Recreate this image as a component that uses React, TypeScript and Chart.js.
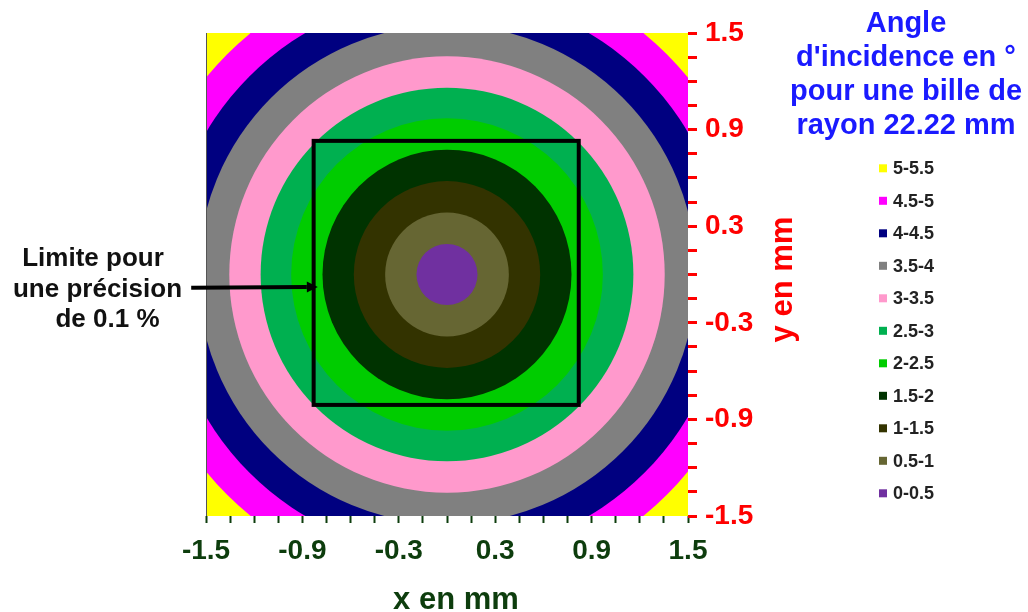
import React, { useEffect, useRef } from 'react';
import { Chart, registerables } from 'chart.js';

Chart.register(...registerables);

// ---- data ----
const bandLabels = ['0-0.5', '0.5-1', '1-1.5', '1.5-2', '2-2.5', '2.5-3', '3-3.5', '3.5-4', '4-4.5', '4.5-5', '5-5.5'];
// outer radius (mm) of each angle band, centred on (0, 0)
const bandOuterRadius = [0.19, 0.385, 0.58, 0.775, 0.97, 1.16, 1.355, 1.55, 1.74, 1.935, 2.13];
const bandColors = ['#7030a0', '#666633', '#333300', '#003300', '#00cc00', '#00b050', '#ff99cc', '#808080', '#000080', '#ff00ff', '#ffff00'];
const centre = [0, 0];

const tickValues = [-1.5, -1.35, -1.2, -1.05, -0.9, -0.75, -0.6, -0.45, -0.3, -0.15, 0, 0.15, 0.3, 0.45, 0.6, 0.75, 0.9, 1.05, 1.2, 1.35, 1.5];
const xTickLabels = ['-1.5', '-0.9', '-0.3', '0.3', '0.9', '1.5'];
const yTickLabels = ['-1.5', '-0.9', '-0.3', '0.3', '0.9', '1.5'];

const limitX = [-0.83, 0.82];
const limitY = [-0.81, 0.83];
const arrowStart = [-1.592, -0.083];
const arrowEnd = [-0.804, -0.077];

const legendTitleLines = ['Angle', "d'incidence en °", 'pour une bille de', 'rayon 22.22 mm'];
const noteLines = ['Limite pour', 'une précision', 'de 0.1 %'];
const xTitle = 'x en mm';
const yTitle = 'y en mm';

const FONT = '"Liberation Sans", Arial, sans-serif';
const X_COLOR = '#0d3d0d';
const Y_COLOR = '#ff0000';

function labelFor(list: string[], value: number): string {
  const hit = list.find((l) => Math.abs(parseFloat(l) - value) < 1e-6);
  return hit ?? '';
}

const contourPlugin = {
  id: 'contour',
  beforeDatasetsDraw(chart: any) {
    const { ctx, chartArea: a, scales } = chart;
    const x = scales.x;
    const y = scales.y;
    ctx.save();
    ctx.beginPath();
    ctx.rect(a.left, a.top, a.right - a.left, a.bottom - a.top);
    ctx.clip();
    const cx = x.getPixelForValue(centre[0]);
    const cy = y.getPixelForValue(centre[1]);
    const n = bandOuterRadius.length;
    // outermost band fills the remaining area
    ctx.fillStyle = bandColors[n - 1];
    ctx.fillRect(a.left, a.top, a.right - a.left, a.bottom - a.top);
    for (let i = n - 2; i >= 0; i--) {
      const r = bandOuterRadius[i];
      const rx = x.getPixelForValue(centre[0] + r) - cx;
      const ry = cy - y.getPixelForValue(centre[1] + r);
      ctx.fillStyle = bandColors[i];
      ctx.beginPath();
      ctx.ellipse(cx, cy, rx, ry, 0, 0, Math.PI * 2);
      ctx.fill();
    }
    ctx.restore();

    // thin left frame line
    ctx.save();
    ctx.strokeStyle = '#555555';
    ctx.lineWidth = 1;
    ctx.beginPath();
    ctx.moveTo(a.left + 0.5, a.top);
    ctx.lineTo(a.left + 0.5, a.bottom);
    ctx.stroke();
    ctx.restore();

    // limit square
    const x0 = x.getPixelForValue(limitX[0]);
    const x1 = x.getPixelForValue(limitX[1]);
    const y0 = y.getPixelForValue(limitY[1]);
    const y1 = y.getPixelForValue(limitY[0]);
    ctx.save();
    ctx.strokeStyle = '#000000';
    ctx.lineWidth = 4;
    ctx.strokeRect(x0, y0, x1 - x0, y1 - y0);
    ctx.restore();
  },
  afterDraw(chart: any) {
    const { ctx, chartArea: a, scales } = chart;
    const x = scales.x;
    const y = scales.y;

    // arrow
    const ax0 = x.getPixelForValue(arrowStart[0]);
    const ay0 = y.getPixelForValue(arrowStart[1]);
    const ax1 = x.getPixelForValue(arrowEnd[0]);
    const ay1 = y.getPixelForValue(arrowEnd[1]);
    const ang = Math.atan2(ay1 - ay0, ax1 - ax0);
    const headLen = 11;
    const headHalf = 5.5;
    ctx.save();
    ctx.strokeStyle = '#000000';
    ctx.fillStyle = '#000000';
    ctx.lineWidth = 4;
    ctx.beginPath();
    ctx.moveTo(ax0, ay0);
    ctx.lineTo(ax1 - headLen * Math.cos(ang), ay1 - headLen * Math.sin(ang));
    ctx.stroke();
    ctx.beginPath();
    ctx.moveTo(ax1, ay1);
    ctx.lineTo(ax1 - headLen * Math.cos(ang) - headHalf * Math.sin(ang), ay1 - headLen * Math.sin(ang) + headHalf * Math.cos(ang));
    ctx.lineTo(ax1 - headLen * Math.cos(ang) + headHalf * Math.sin(ang), ay1 - headLen * Math.sin(ang) - headHalf * Math.cos(ang));
    ctx.closePath();
    ctx.fill();
    ctx.restore();

    // note text
    ctx.save();
    ctx.font = `bold 26px ${FONT}`;
    ctx.fillStyle = '#111111';
    ctx.textAlign = 'center';
    ctx.textBaseline = 'alphabetic';
    const noteX = [93, 97.5, 107.5];
    noteLines.forEach((line, i) => ctx.fillText(line, noteX[i], 266 + i * 30.5));
    ctx.restore();

    // axis titles
    ctx.save();
    ctx.font = `bold 31px ${FONT}`;
    ctx.fillStyle = X_COLOR;
    ctx.textAlign = 'center';
    ctx.textBaseline = 'alphabetic';
    ctx.fillText(xTitle, 456, 609);
    ctx.restore();

    ctx.save();
    ctx.font = `bold 31px ${FONT}`;
    ctx.fillStyle = Y_COLOR;
    ctx.textAlign = 'center';
    ctx.textBaseline = 'alphabetic';
    ctx.translate(792, 279.5);
    ctx.rotate(-Math.PI / 2);
    ctx.fillText(yTitle, 0, 0);
    ctx.restore();

    // legend title
    ctx.save();
    ctx.font = `bold 29px ${FONT}`;
    ctx.fillStyle = '#1a1aff';
    ctx.textAlign = 'center';
    ctx.textBaseline = 'alphabetic';
    legendTitleLines.forEach((line, i) => ctx.fillText(line, 906, 32 + i * 34));
    ctx.restore();

    // legend entries, highest band first
    ctx.save();
    ctx.font = `bold 18px ${FONT}`;
    ctx.textAlign = 'left';
    ctx.textBaseline = 'middle';
    const n = bandLabels.length;
    for (let k = 0; k < n; k++) {
      const i = n - 1 - k;
      const cyL = 168.3 + k * 32.5;
      ctx.fillStyle = bandColors[i];
      ctx.fillRect(879, cyL - 4, 8, 8);
      ctx.fillStyle = '#222222';
      ctx.fillText(bandLabels[i], 893, cyL + 1);
    }
    ctx.restore();
  },
};

export default function App() {
  const ref = useRef<HTMLCanvasElement | null>(null);
  useEffect(() => {
    if (!ref.current) return;
    const chart = new Chart(ref.current, {
      type: 'scatter',
      data: { datasets: [] },
      options: {
        animation: false,
        responsive: false,
        devicePixelRatio: 1,
        layout: { padding: { left: 206, right: 260, top: 33, bottom: 0 } },
        plugins: { legend: { display: false }, tooltip: { enabled: false }, title: { display: false } },
        scales: {
          x: {
            type: 'linear',
            position: 'bottom',
            min: -1.5,
            max: 1.5,
            afterBuildTicks: (s: any) => {
              s.ticks = tickValues.map((v) => ({ value: v }));
            },
            afterFit: (s: any) => {
              s.height = 96;
            },
            border: { display: false },
            grid: { drawOnChartArea: false, drawTicks: true, tickLength: 7, tickWidth: 2, tickColor: X_COLOR, color: X_COLOR },
            ticks: {
              autoSkip: false,
              maxRotation: 0,
              padding: 11,
              color: X_COLOR,
              font: { family: FONT, size: 28, weight: 'bold' },
              callback: (v: any) => labelFor(xTickLabels, Number(v)),
            },
          },
          y: {
            type: 'linear',
            position: 'right',
            min: -1.5,
            max: 1.5,
            afterBuildTicks: (s: any) => {
              s.ticks = tickValues.map((v) => ({ value: v }));
            },
            afterFit: (s: any) => {
              s.width = 80;
            },
            border: { display: false },
            grid: { drawOnChartArea: false, drawTicks: true, tickLength: 9, tickWidth: 3, tickColor: Y_COLOR, color: Y_COLOR },
            ticks: {
              autoSkip: false,
              padding: 8,
              color: Y_COLOR,
              font: { family: FONT, size: 28, weight: 'bold' },
              callback: (v: any) => labelFor(yTickLabels, Number(v)),
            },
          },
        },
      } as any,
      plugins: [contourPlugin],
    });
    return () => chart.destroy();
  }, []);
  return (
    <div style={{ position: 'absolute', left: 0, top: 0, width: 1028, height: 612, background: '#ffffff' }}>
      <canvas ref={ref} width={1028} height={612} style={{ width: 1028, height: 612, display: 'block' }} />
    </div>
  );
}
